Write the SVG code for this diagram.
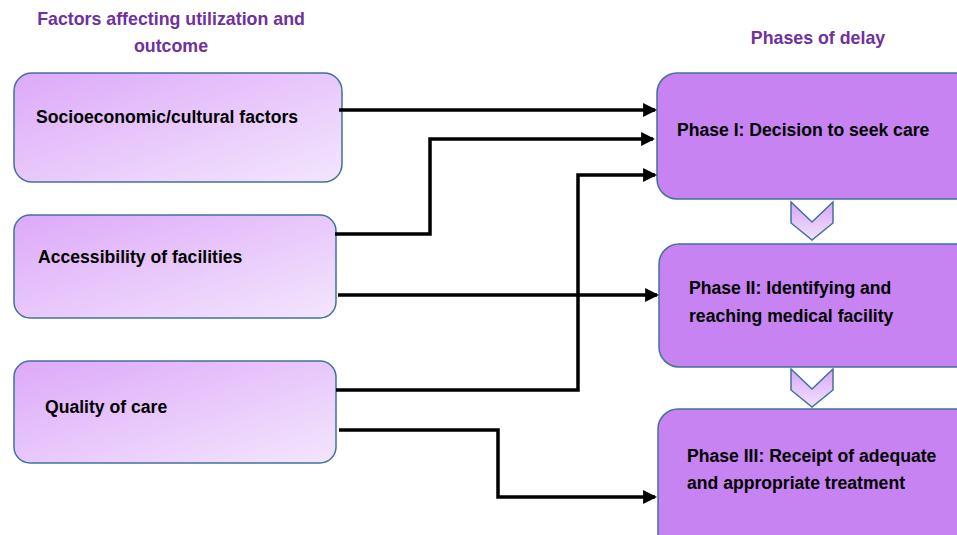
<svg xmlns="http://www.w3.org/2000/svg" width="957" height="535" viewBox="0 0 957 535">
<style>
.t{font-family:"Liberation Sans",Arial,sans-serif;font-weight:bold;font-size:17.6px;fill:#000}
.h{font-family:"Liberation Sans",Arial,sans-serif;font-weight:bold;font-size:17.8px;fill:#7030A0}
.lb{fill:url(#lg);stroke:#41719C;stroke-width:1.5}
.rb{fill:#C683F1;stroke:#41719C;stroke-width:1.5}
.ch{fill:url(#cg);stroke:#41719C;stroke-width:1.5}
.c{fill:none;stroke:#000;stroke-width:3.5;marker-end:url(#ah)}
</style>
<defs>
<linearGradient id="lg" x1="0" y1="0" x2="1" y2="1">
<stop offset="0" stop-color="#DDA9F9"/>
<stop offset="1" stop-color="#F3E6FD"/>
</linearGradient>
<linearGradient id="cg" x1="0" y1="0" x2="0" y2="1">
<stop offset="0" stop-color="#D9A6F7"/>
<stop offset="1" stop-color="#F1E2FC"/>
</linearGradient>
<marker id="ah" markerWidth="4" markerHeight="4" refX="3.4" refY="2" orient="auto" markerUnits="strokeWidth">
<path d="M0,0 L4,2 L0,4 Z" fill="#000"/>
</marker>
</defs>
<g id="title-left"><text class="h" x="171" y="25" text-anchor="middle">Factors affecting utilization and</text><text class="h" x="171" y="52" text-anchor="middle">outcome</text></g>
<g id="title-right"><text class="h" x="818" y="44" text-anchor="middle">Phases of delay</text></g>
<g id="n-socio"><rect class="lb" x="14" y="73" width="328" height="109" rx="18"/><text class="t" x="36" y="123">Socioeconomic/cultural factors</text></g>
<g id="n-access"><rect class="lb" x="14" y="215" width="322" height="103" rx="16"/><text class="t" x="38" y="263">Accessibility of facilities</text></g>
<g id="n-quality"><rect class="lb" x="14" y="361" width="322" height="102" rx="16"/><text class="t" x="45" y="413">Quality of care</text></g>
<g id="n-phase1"><rect class="rb" x="657" y="73" width="320" height="126" rx="20"/><text class="t" x="677" y="136">Phase I: Decision to seek care</text></g>
<g id="n-phase2"><rect class="rb" x="659" y="244" width="318" height="123" rx="20"/><text class="t" x="689" y="294">Phase II: Identifying and</text><text class="t" x="689" y="322">reaching medical facility</text></g>
<g id="n-phase3"><rect class="rb" x="658" y="409" width="319" height="150" rx="20"/><text class="t" x="687" y="462">Phase III: Receipt of adequate</text><text class="t" x="687" y="489">and appropriate treatment</text></g>
<g id="chevrons">
<path class="ch" d="M791,202 L812,222 L833,202 L833,223 L812,240 L791,223 Z"/>
<path class="ch" d="M791,369 L812,389 L833,369 L833,390 L812,407 L791,390 Z"/>
</g>
<g id="connectors">
<path class="c" d="M339,110 H655"/>
<path class="c" d="M335,234 H430 V139 H653"/>
<path class="c" d="M336,390 H578 V175 H655"/>
<path class="c" d="M338,295 H657"/>
<path class="c" d="M339,430 H498 V497 H655"/>
</g>
</svg>
